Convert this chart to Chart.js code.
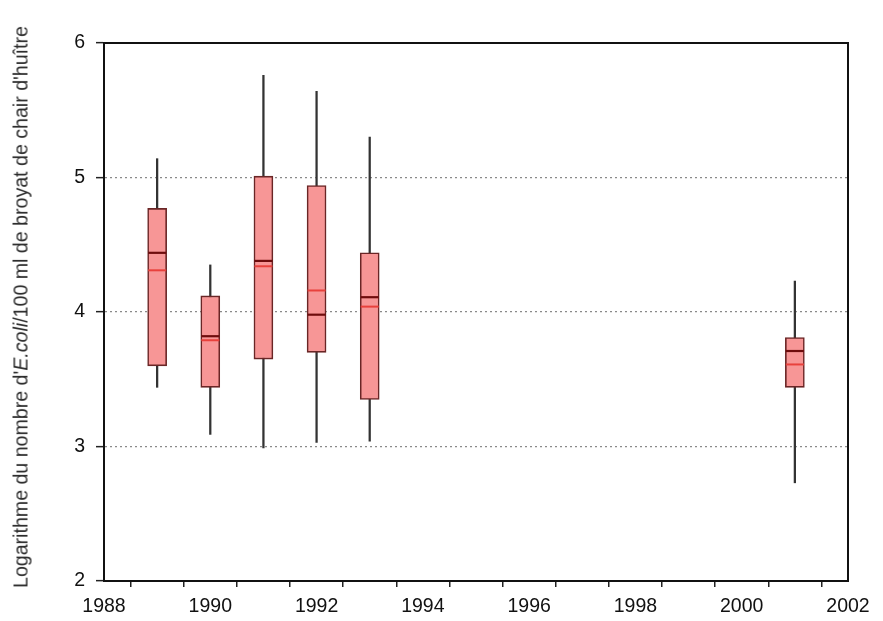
<!DOCTYPE html>
<html>
<head>
<meta charset="utf-8">
<script src="https://cdn.jsdelivr.net/npm/chart.js@4/dist/chart.umd.min.js"></script>
<style>
  html, body { margin: 0; padding: 0; background: #ffffff; }
  #wrap { position: relative; width: 883px; height: 621px; }
  #ytitle {
    position: absolute; left: 21px; top: 307px;
    transform: translate(-50%, -50%) rotate(-90deg);
    white-space: nowrap;
    font-family: "Liberation Sans", Arial, sans-serif;
    font-size: 19.6px; color: #2a2a2a;
  }
</style>
</head>
<body>
<div id="wrap">
  <canvas id="c" width="883" height="621"></canvas>
  <div id="ytitle">Logarithme du nombre d'<i>E.coli</i>/100 ml de broyat de chair d'huître</div>
</div>
<script>
const years       = [1989, 1990, 1991, 1992, 1993, 2001];
const whiskerLow  = [3.44, 3.09, 2.99, 3.03, 3.04, 2.73];
const q1          = [3.60, 3.44, 3.65, 3.70, 3.35, 3.44];
const medians     = [4.44, 3.82, 4.38, 3.98, 4.11, 3.71];
const means       = [4.31, 3.79, 4.34, 4.16, 4.04, 3.61];
const q3          = [4.77, 4.12, 5.01, 4.94, 4.44, 3.81];
const whiskerHigh = [5.14, 4.35, 5.76, 5.64, 5.30, 4.23];
const xMin = 1988, xMax = 2002;
const yMin = 2, yMax = 6;

const whiskerData = years.map((x, i) => ({ x: x, y: [whiskerLow[i], whiskerHigh[i]] }));
const boxData     = years.map((x, i) => ({ x: x, y: [q1[i], q3[i]] }));
const medianData  = years.map((x, i) => ({ x: x, y: medians[i] }));
const meanData    = years.map((x, i) => ({ x: x, y: means[i] }));

const frame = {
  id: 'frame',
  afterDatasetsDraw(chart) {
    const a = chart.chartArea, ctx = chart.ctx;
    ctx.save();
    ctx.strokeStyle = '#111';
    ctx.lineWidth = 2;
    ctx.strokeRect(a.left, a.top, a.right - a.left, a.bottom - a.top);
    ctx.restore();
  }
};

const font = { family: '"Liberation Sans", Arial, sans-serif', size: 19.5 };

new Chart(document.getElementById('c'), {
  type: 'bar',
  data: {
    datasets: [
      { type: 'bar', data: whiskerData, grouped: false, barThickness: 1.6,
        backgroundColor: '#333333', borderWidth: 0, order: 3 },
      { type: 'bar', data: boxData, grouped: false, barThickness: 19,
        backgroundColor: '#f79696', borderColor: '#6a2626', borderWidth: 1.6,
        borderSkipped: false, order: 2 },
      { type: 'line', data: meanData, showLine: false, pointStyle: 'line',
        pointRadius: 9, pointHoverRadius: 9, borderColor: '#e8413c', borderWidth: 2, order: 1 },
      { type: 'line', data: medianData, showLine: false, pointStyle: 'line',
        pointRadius: 9, pointHoverRadius: 9, borderColor: '#6e0d0d', borderWidth: 2.2, order: 0 }
    ]
  },
  options: {
    responsive: false,
    animation: false,
    layout: { padding: { left: 0, right: 35, top: 43, bottom: 0 } },
    plugins: { legend: { display: false }, tooltip: { enabled: false } },
    scales: {
      x: {
        type: 'linear', min: xMin, max: xMax, offset: false,
        afterFit(s) { s.height = 40; },
        ticks: { stepSize: 1, autoSkip: false, maxRotation: 0, color: '#111', font: font, padding: 8,
                 callback: v => (v % 2 === 0 ? String(v) : '') },
        grid: { drawOnChartArea: false, drawTicks: true, tickLength: 6, color: '#222', lineWidth: 1.5 },
        border: { display: true, color: '#111', width: 2 }
      },
      y: {
        type: 'linear', min: yMin, max: yMax,
        afterFit(s) { s.width = 104; },
        ticks: { stepSize: 1, color: '#111', font: font, padding: 11 },
        grid: {
          drawTicks: true, tickLength: 8,
          color: ctx => (ctx.tick && (ctx.tick.value === yMin || ctx.tick.value === yMax)) ? 'rgba(0,0,0,0)' : '#8a8a8a',
          tickColor: '#222', lineWidth: 1.3, tickBorderDash: [], tickWidth: 1.5
        },
        border: { display: true, color: '#111', width: 2, dash: [2, 3] }
      }
    }
  },
  plugins: [frame]
});
</script>
</body>
</html>
